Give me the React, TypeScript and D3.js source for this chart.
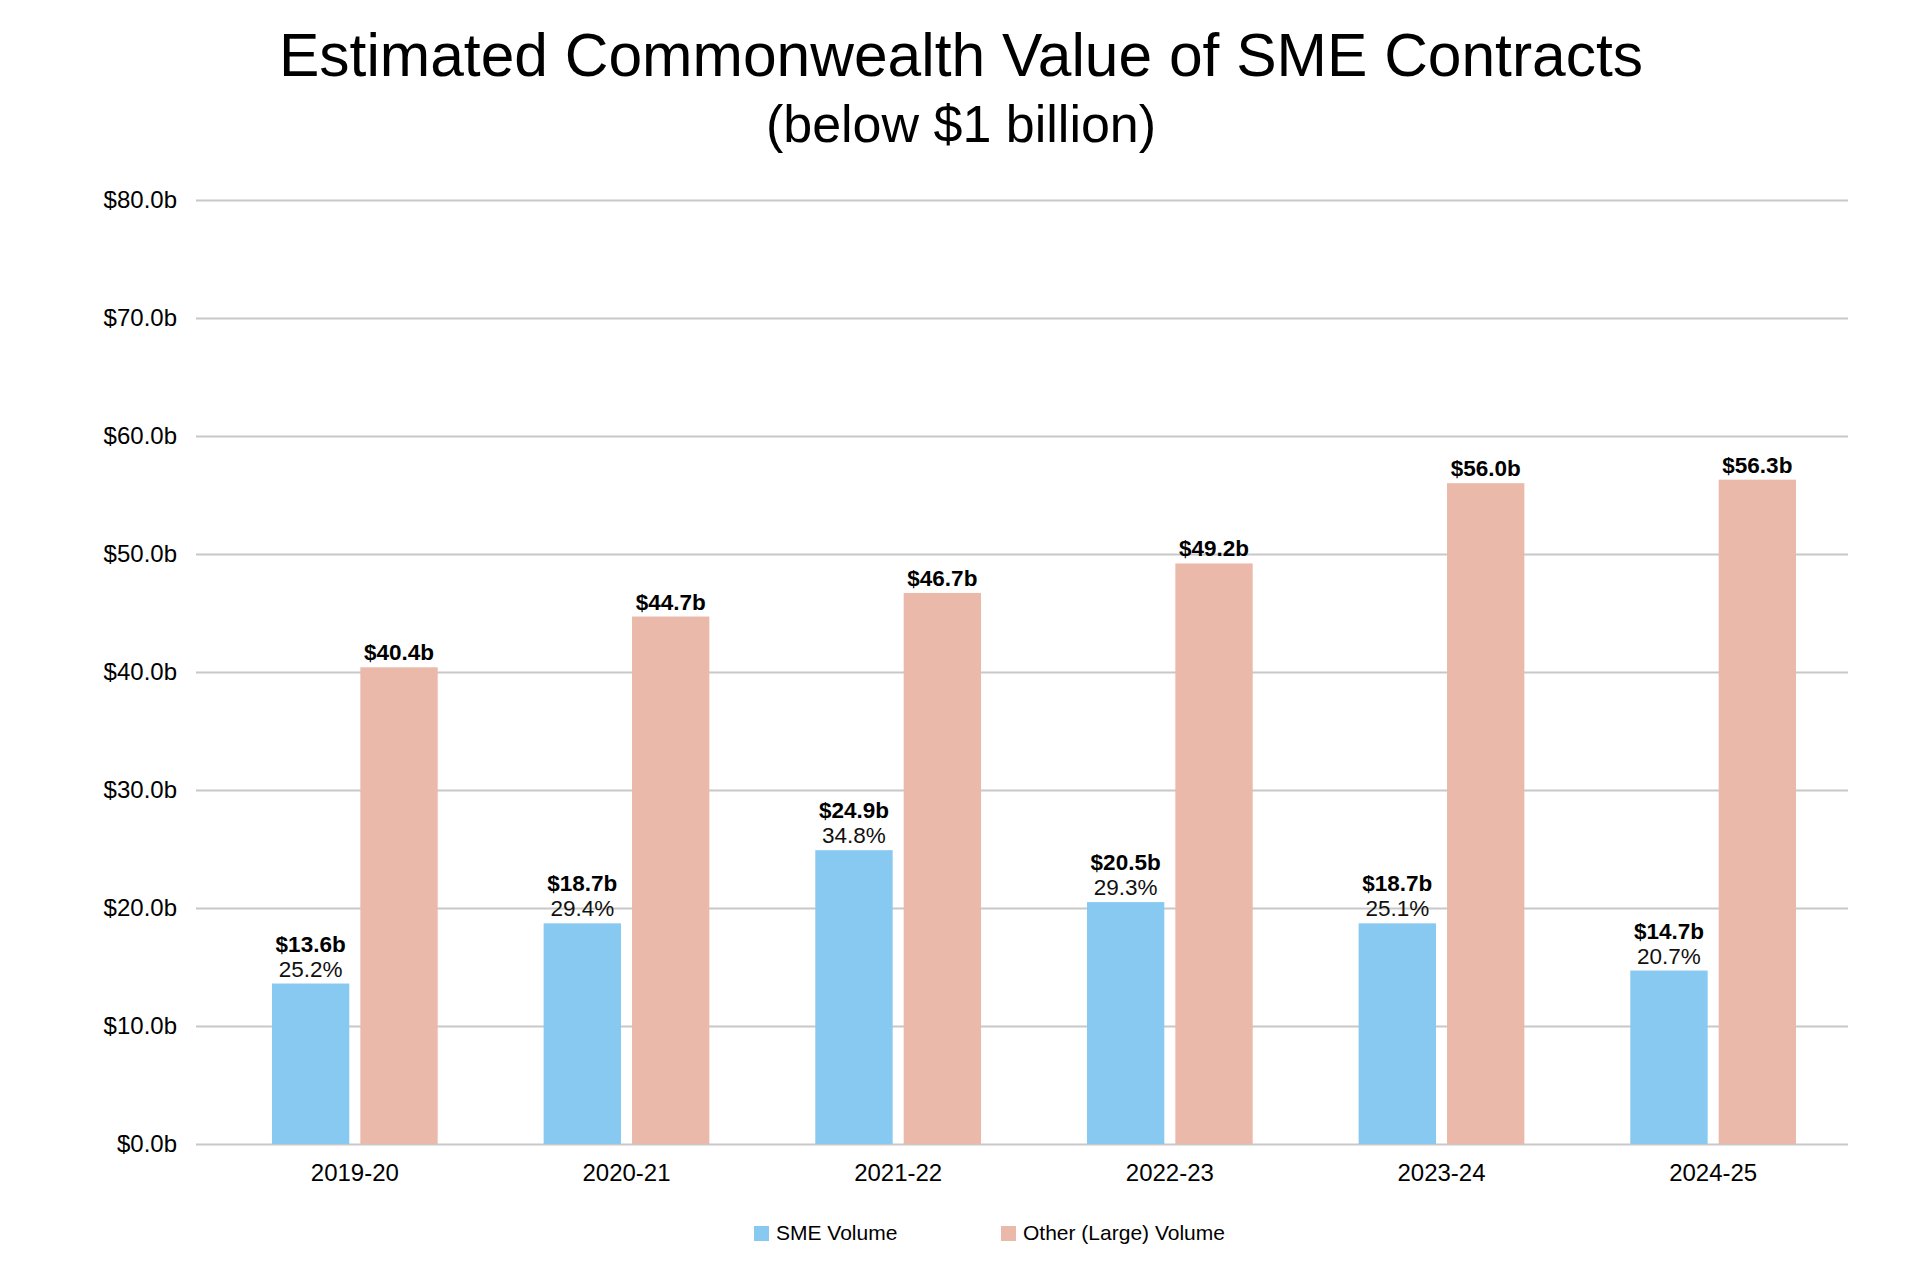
import React from "react";
import { select, scaleBand, scaleLinear, axisLeft, axisBottom } from "d3";

const years = ["2019-20", "2020-21", "2021-22", "2022-23", "2023-24", "2024-25"];
const smeValues = [13.6, 18.7, 24.9, 20.5, 18.7, 14.7];
const otherValues = [40.4, 44.7, 46.7, 49.2, 56.0, 56.3];
const smeShares = [25.2, 29.4, 34.8, 29.3, 25.1, 20.7];
const seriesNames = ["SME Volume", "Other (Large) Volume"];
const seriesColors = ["#87c9f0", "#eab9a9"];
const yTicks = [0, 10, 20, 30, 40, 50, 60, 70, 80];

const FONT = "'Liberation Sans', Arial, Helvetica, sans-serif";

export default function App() {
  const svgRef = React.useRef<SVGSVGElement | null>(null);
  const width = 1919;
  const height = 1270;

  React.useEffect(() => {
    const svg = select(svgRef.current);
    svg.selectAll("*").remove();

    const plot = { left: 196, right: 1848, top: 200, bottom: 1144 };

    const x = scaleBand<string>()
      .domain(years)
      .range([219, 1849])
      .paddingInner(0.39)
      .paddingOuter(0.195);

    const xInner = scaleBand<string>()
      .domain(seriesNames)
      .range([0, x.bandwidth()])
      .paddingInner(0.125);

    const y = scaleLinear().domain([0, 80]).range([plot.bottom, plot.top]);

    svg
      .append("rect")
      .attr("width", width)
      .attr("height", height)
      .attr("fill", "#ffffff");

    // title
    svg
      .append("text")
      .attr("x", 961)
      .attr("y", 76)
      .attr("text-anchor", "middle")
      .style("font-family", FONT)
      .style("font-size", "60.5px")
      .style("fill", "#000")
      .text("Estimated Commonwealth Value of SME Contracts");

    svg
      .append("text")
      .attr("x", 961)
      .attr("y", 142)
      .attr("text-anchor", "middle")
      .style("font-family", FONT)
      .style("font-size", "52px")
      .style("fill", "#000")
      .text("(below $1 billion)");

    // y axis + grid
    const yAxis = svg
      .append("g")
      .attr("transform", `translate(${plot.left},0)`)
      .call(
        axisLeft(y)
          .tickValues(yTicks)
          .tickSizeInner(-(plot.right - plot.left))
          .tickSizeOuter(0)
          .tickPadding(19)
          .tickFormat((d) => `$${(+d).toFixed(1)}b`)
      );
    yAxis.select(".domain").remove();
    yAxis
      .selectAll("line")
      .attr("stroke", "#c8c8c8")
      .attr("stroke-width", 2);
    yAxis
      .selectAll("text")
      .style("font-family", FONT)
      .style("font-size", "24px")
      .style("fill", "#000");

    // x axis labels
    const xAxis = svg
      .append("g")
      .attr("transform", `translate(0,${plot.bottom})`)
      .call(axisBottom(x).tickSize(0).tickPadding(20));
    xAxis.select(".domain").remove();
    xAxis
      .selectAll("text")
      .style("font-family", FONT)
      .style("font-size", "24px")
      .style("fill", "#000");

    const rows = years.map((yr, i) => ({
      yr,
      sme: smeValues[i],
      other: otherValues[i],
      share: smeShares[i],
    }));

    const groups = svg
      .append("g")
      .selectAll("g")
      .data(rows)
      .join("g")
      .attr("transform", (d) => `translate(${x(d.yr)},0)`);

    groups
      .append("rect")
      .attr("x", xInner(seriesNames[0])!)
      .attr("y", (d) => y(d.sme))
      .attr("width", xInner.bandwidth())
      .attr("height", (d) => y(0) - y(d.sme))
      .attr("fill", seriesColors[0]);

    groups
      .append("rect")
      .attr("x", xInner(seriesNames[1])!)
      .attr("y", (d) => y(d.other))
      .attr("width", xInner.bandwidth())
      .attr("height", (d) => y(0) - y(d.other))
      .attr("fill", seriesColors[1]);

    const cSme = xInner(seriesNames[0])! + xInner.bandwidth() / 2;
    const cOther = xInner(seriesNames[1])! + xInner.bandwidth() / 2;

    // labels on the SME bars
    groups
      .append("text")
      .attr("x", cSme)
      .attr("y", (d) => y(d.sme) - 32)
      .attr("text-anchor", "middle")
      .style("font-family", FONT)
      .style("font-size", "22.5px")
      .style("font-weight", "bold")
      .style("fill", "#000")
      .text((d) => `$${d.sme.toFixed(1)}b`);

    groups
      .append("text")
      .attr("x", cSme)
      .attr("y", (d) => y(d.sme) - 7)
      .attr("text-anchor", "middle")
      .style("font-family", FONT)
      .style("font-size", "22.5px")
      .style("fill", "#111")
      .text((d) => `${d.share.toFixed(1)}%`);

    // labels on the large bars
    groups
      .append("text")
      .attr("x", cOther)
      .attr("y", (d) => y(d.other) - 7)
      .attr("text-anchor", "middle")
      .style("font-family", FONT)
      .style("font-size", "22.5px")
      .style("font-weight", "bold")
      .style("fill", "#000")
      .text((d) => `$${d.other.toFixed(1)}b`);

    // legend
    const legendX = [754, 1001];
    const legend = svg
      .append("g")
      .selectAll("g")
      .data(seriesNames)
      .join("g")
      .attr("transform", (_, i) => `translate(${legendX[i]},1226)`);
    legend
      .append("rect")
      .attr("width", 15)
      .attr("height", 15)
      .attr("fill", (_, i) => seriesColors[i]);
    legend
      .append("text")
      .attr("x", 22)
      .attr("y", 14)
      .style("font-family", FONT)
      .style("font-size", "21px")
      .style("fill", "#000")
      .text((d) => d);

    return () => {
      svg.selectAll("*").remove();
    };
  }, []);

  return (
    <svg
      ref={svgRef}
      width={width}
      height={height}
      style={{ position: "absolute", left: 0, top: 0 }}
    />
  );
}
